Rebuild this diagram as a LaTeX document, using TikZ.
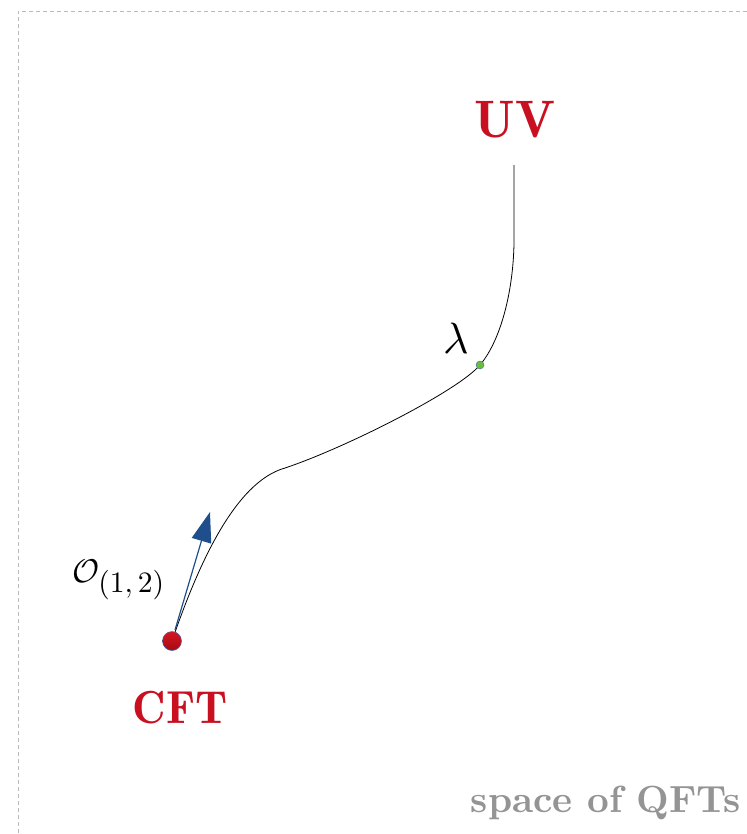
\documentclass[tikz,border=0pt]{standalone}
\usetikzlibrary{arrows.meta}
\definecolor{uvred}{RGB}{200,16,32}
\definecolor{dotred}{RGB}{215,22,32}
\definecolor{dotdark}{RGB}{165,10,20}
\definecolor{qgray}{RGB}{148,148,148}
\definecolor{framegray}{RGB}{185,185,185}
\definecolor{arrowblue}{RGB}{31,78,140}
\definecolor{dotgreen}{RGB}{106,190,58}
\definecolor{dotedge}{RGB}{70,100,170}
\tikzset{
  lbl/.style={text=uvred, inner sep=0pt, font=\fontseries{b}\selectfont},
  graylbl/.style={text=qgray, inner sep=0pt, font=\bfseries},
  mathlbl/.style={inner sep=0pt},
  flow/.style={line width=0.8pt, black},
}
\begin{document}
\begin{tikzpicture}[x=1bp,y=-1bp]
\useasboundingbox (0,0) rectangle (747,834);
% frame
\draw[framegray, line width=0.8pt, dash pattern=on 4bp off 3bp] (18,840) -- (18,11) -- (760,11);
% labels
\node[lbl, anchor=base] (uv) at (515,137) {\scalebox{5.3}{UV}};
\node[lbl, anchor=base] (cft) at (180,723) {\scalebox{4.65}{CFT}};
\node[graylbl, anchor=base east] (space) at (741,812) {\scalebox{3.8}{space of QFTs}};
\node[mathlbl, anchor=base] (lam) at (456,353) {\scalebox{4.4}{$\lambda$}};
\node[mathlbl, anchor=base west] (op) at (72,582) {\scalebox{3.3}{$\mathcal{O}_{\scalebox{0.9}{$(1,2)$}}$}};
% points
\coordinate (top) at (514,165);
\coordinate (pl) at (480,365);
\coordinate (pc) at (172,641);
\coordinate (tip) at (210,512);
% flow curve
\draw[flow] (pc) .. controls (198,565) and (235,482) .. (285,468)
  .. controls (345,448) and (458,391) .. (pl)
  .. controls (502,339) and (515,285) .. (514,232) -- (top);
% arrow
\draw[arrowblue, line width=1.2pt, -{Triangle[length=30bp, width=20bp]}] (175,630) -- (tip);
% dots
\filldraw[fill=dotgreen, draw=dotedge, line width=0.4pt] (pl) circle (4bp);
\shade[top color=dotred, bottom color=dotdark] (pc) circle (9.5bp);
\draw[dotedge, line width=0.5pt] (pc) circle (9.5bp);
\end{tikzpicture}
\end{document}
